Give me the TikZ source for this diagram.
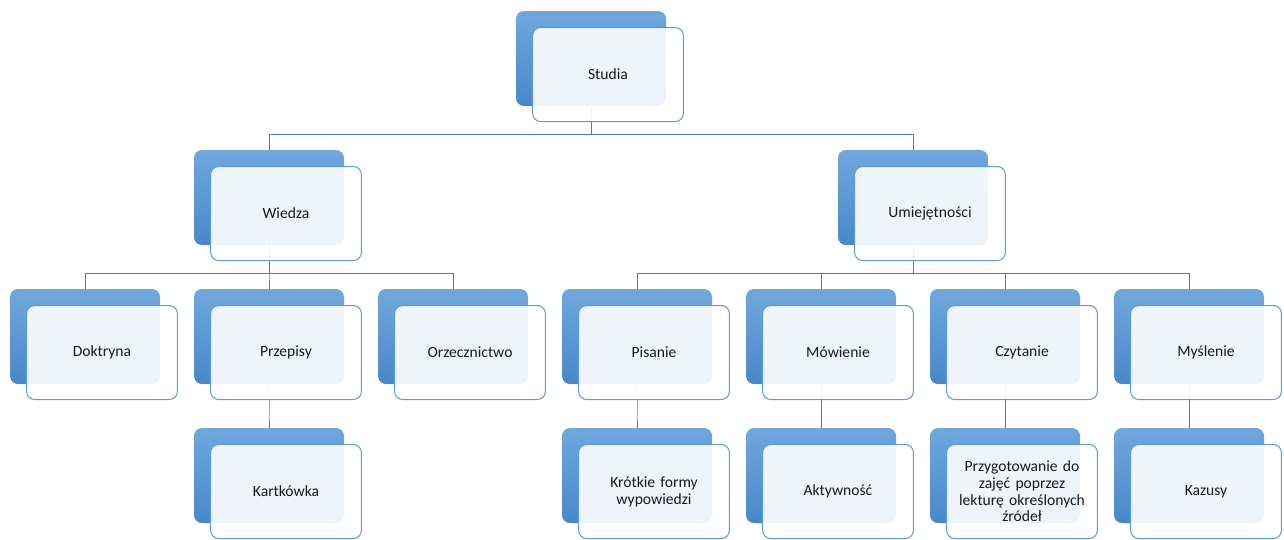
\documentclass[tikz,border=0pt]{standalone}
\usepackage{fontspec}
\setmainfont{Carlito}
\usepackage{tikz}
\definecolor{boxtop}{HTML}{70A7DE}
\definecolor{boxbottom}{HTML}{4888C8}
\definecolor{frontline}{HTML}{5B9BD5}
\definecolor{linkline}{HTML}{4A7EBB}
\begin{document}
\begin{tikzpicture}[x=1pt, y=1pt, level distance=139pt,
        level 1/.style = {sibling distance=644pt},
        level 2/.style = {sibling distance=184pt},
        back/.style = {shape=rectangle, rounded corners=8pt,
          minimum width=150pt, minimum height=95pt, inner sep=0pt,
          top color=boxtop, bottom color=boxbottom},
        front/.style = {shape=rectangle, rounded corners=8pt,
          draw=frontline, line width=1pt, fill=white, fill opacity=0.9,
          text opacity=1, minimum width=150pt, minimum height=94pt,
          text width=144pt, align=center, text=black!90,
          font=\fontsize{15.6}{16.7}\selectfont},
        edge from parent/.style = {draw=linkline, line width=1pt},
        edge from parent path = {(\tikzparentnode.south)
          |- ([yshift=15pt]\tikzchildnode.north) -- (\tikzchildnode.north)}]
  \useasboundingbox (0,0) rectangle (1284,-539);
  \node[back] (studia) at (591,-58.5) {}
    child { node[back] (wiedza) {}
      child { node[back] (doktryna) {} }
      child { node[back] (przepisy) {}
        child { node[back] (kartkowka) {} } }
      child { node[back] (orzecznictwo) {} } }
    child { node[back] (umiejetnosci) {}
      child { node[back] (pisanie) {}
        child { node[back] (krotkie) {} } }
      child { node[back] (mowienie) {}
        child { node[back] (aktywnosc) {} } }
      child { node[back] (czytanie) {}
        child { node[back] (przygotowanie) {} } }
      child { node[back] (myslenie) {}
        child { node[back] (kazusy) {} } } };
  \foreach \n/\t in {studia/Studia, wiedza/Wiedza,
      umiejetnosci/Umiejętności, doktryna/Doktryna, przepisy/Przepisy,
      orzecznictwo/Orzecznictwo, kartkowka/Kartkówka, pisanie/Pisanie,
      mowienie/Mówienie, czytanie/Czytanie, myslenie/Myślenie,
      krotkie/Krótkie formy\\wypowiedzi, aktywnosc/Aktywność,
      przygotowanie/Przygotowanie do\\zajęć poprzez\\lekturę określonych\\źródeł,
      kazusy/Kazusy}
    \node[front] at ([shift={(17pt,-16pt)}]\n.center) {\t};
\end{tikzpicture}
\end{document}
